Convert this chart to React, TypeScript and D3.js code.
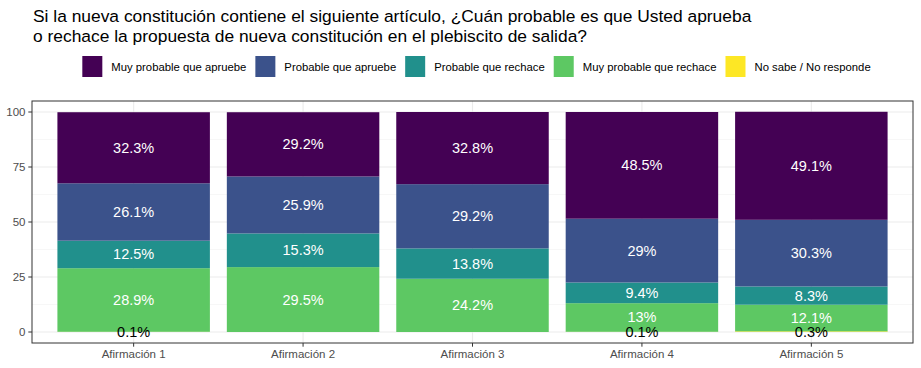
import React, { useEffect, useRef } from 'react'
import * as d3 from 'd3'

const categories = ['Afirmación 1', 'Afirmación 2', 'Afirmación 3', 'Afirmación 4', 'Afirmación 5']
const series = [
  'Muy probable que apruebe',
  'Probable que apruebe',
  'Probable que rechace',
  'Muy probable que rechace',
  'No sabe / No responde',
]
const colors = ['#440154', '#3B528B', '#21908C', '#5DC863', '#FDE725']
const labelColors = ['#ffffff', '#ffffff', '#ffffff', '#ffffff', '#000000']

// valores en %
const muyApruebe = [32.3, 29.2, 32.8, 48.5, 49.1]
const apruebe = [26.1, 25.9, 29.2, 29, 30.3]
const rechace = [12.5, 15.3, 13.8, 9.4, 8.3]
const muyRechace = [28.9, 29.5, 24.2, 13, 12.1]
const noSabe = [0.1, 0, 0, 0.1, 0.3]

const yTicks = [0, 25, 50, 75, 100]
const yMinor = [12.5, 37.5, 62.5, 87.5]

const titleLines = [
  'Si la nueva constitución contiene el siguiente artículo, ¿Cuán probable es que Usted aprueba',
  'o rechace la propuesta de nueva constitución en el plebiscito de salida?',
]

const FONT = '"Liberation Sans", Arial, sans-serif'

const App = () => {
  const svgRef = useRef<SVGSVGElement>(null)

  useEffect(() => {
    document.body.style.margin = '0'
    const width = 921
    const height = 368
    const panel = { left: 32, right: 913, top: 101, bottom: 343 }

    const values = [muyApruebe, apruebe, rechace, muyRechace, noSabe]
    const rows = categories.map((c, i) => {
      const r: any = { cat: c }
      series.forEach((s, j) => (r[s] = values[j][i]))
      return r
    })
    // apilado: "No sabe" abajo, "Muy probable que apruebe" arriba
    const stack = d3.stack().keys([...series].reverse())(rows)

    const x = d3
      .scaleBand()
      .domain(categories)
      .range([panel.left, panel.right])
      .paddingInner(0.1)
      .paddingOuter(0.15)
    const y = d3.scaleLinear().domain([-5, 105]).range([panel.bottom, panel.top])
    const color = d3.scaleOrdinal<string>().domain(series).range(colors)
    const textColor = d3.scaleOrdinal<string>().domain(series).range(labelColors)

    const svg = d3.select(svgRef.current).attr('width', width).attr('height', height)
    svg.selectAll('*').remove()
    svg.append('rect').attr('width', width).attr('height', height).attr('fill', '#fff')

    // titulo
    svg
      .append('g')
      .selectAll('text')
      .data(titleLines)
      .join('text')
      .attr('x', 33)
      .attr('y', (d, i) => 22 + i * 20)
      .style('font-family', FONT)
      .style('font-size', '17.4px')
      .attr('fill', '#000')
      .text((d) => d)

    // grilla
    const grid = svg.append('g')
    grid
      .selectAll('line.minor')
      .data(yMinor)
      .join('line')
      .attr('class', 'minor')
      .attr('x1', panel.left)
      .attr('x2', panel.right)
      .attr('y1', (d) => y(d))
      .attr('y2', (d) => y(d))
      .attr('stroke', '#F2F2F2')
      .attr('stroke-width', 0.6)
    grid
      .selectAll('line.major')
      .data(yTicks)
      .join('line')
      .attr('class', 'major')
      .attr('x1', panel.left)
      .attr('x2', panel.right)
      .attr('y1', (d) => y(d))
      .attr('y2', (d) => y(d))
      .attr('stroke', '#EBEBEB')
      .attr('stroke-width', 1.1)
    grid
      .selectAll('line.vmajor')
      .data(categories)
      .join('line')
      .attr('class', 'vmajor')
      .attr('x1', (d) => x(d)! + x.bandwidth() / 2)
      .attr('x2', (d) => x(d)! + x.bandwidth() / 2)
      .attr('y1', panel.top)
      .attr('y2', panel.bottom)
      .attr('stroke', '#EBEBEB')
      .attr('stroke-width', 1.1)

    // barras
    const layers = svg
      .append('g')
      .selectAll('g')
      .data(stack)
      .join('g')
      .attr('fill', (d) => color(d.key))
    layers
      .selectAll('rect')
      .data((d) => d)
      .join('rect')
      .attr('x', (d: any) => x(d.data.cat)!)
      .attr('width', x.bandwidth())
      .attr('y', (d) => y(d[1]))
      .attr('height', (d) => y(d[0]) - y(d[1]))

    // etiquetas
    stack.forEach((layer) => {
      svg
        .append('g')
        .selectAll('text')
        .data(layer.filter((d) => d[1] - d[0] > 0))
        .join('text')
        .attr('x', (d: any) => x(d.data.cat)! + x.bandwidth() / 2)
        .attr('y', (d) => y((d[0] + d[1]) / 2))
        .attr('text-anchor', 'middle')
        .attr('dominant-baseline', 'central')
        .style('font-family', FONT)
        .style('font-size', '14.5px')
        .attr('fill', textColor(layer.key))
        .text((d: any) => `${d.data[layer.key]}%`)
    })

    // borde del panel
    svg
      .append('rect')
      .attr('x', panel.left)
      .attr('y', panel.top)
      .attr('width', panel.right - panel.left)
      .attr('height', panel.bottom - panel.top)
      .attr('fill', 'none')
      .attr('stroke', '#333333')
      .attr('stroke-width', 1)

    // eje y
    const yAxis = svg.append('g')
    yAxis
      .selectAll('line')
      .data(yTicks)
      .join('line')
      .attr('x1', panel.left - 3.7)
      .attr('x2', panel.left)
      .attr('y1', (d) => y(d))
      .attr('y2', (d) => y(d))
      .attr('stroke', '#333333')
    yAxis
      .selectAll('text')
      .data(yTicks)
      .join('text')
      .attr('x', panel.left - 6.5)
      .attr('y', (d) => y(d))
      .attr('text-anchor', 'end')
      .attr('dominant-baseline', 'central')
      .style('font-family', FONT)
      .style('font-size', '11.5px')
      .attr('fill', '#4D4D4D')
      .text((d) => d)

    // eje x
    const xAxis = svg.append('g')
    xAxis
      .selectAll('line')
      .data(categories)
      .join('line')
      .attr('x1', (d) => x(d)! + x.bandwidth() / 2)
      .attr('x2', (d) => x(d)! + x.bandwidth() / 2)
      .attr('y1', panel.bottom)
      .attr('y2', panel.bottom + 3.7)
      .attr('stroke', '#333333')
    xAxis
      .selectAll('text')
      .data(categories)
      .join('text')
      .attr('x', (d) => x(d)! + x.bandwidth() / 2)
      .attr('y', panel.bottom + 15)
      .attr('text-anchor', 'middle')
      .style('font-family', FONT)
      .style('font-size', '11.5px')
      .attr('fill', '#4D4D4D')
      .text((d) => d)

    // leyenda
    const legend = svg.append('g')
    const items = legend
      .selectAll('g')
      .data(series)
      .join('g')
    items
      .append('rect')
      .attr('width', 20)
      .attr('height', 21)
      .attr('fill', (d) => color(d))
    const texts = items
      .append('text')
      .attr('x', 29)
      .attr('y', 10.5)
      .attr('dominant-baseline', 'central')
      .style('font-family', FONT)
      .style('font-size', '11.3px')
      .attr('fill', '#000')
      .text((d) => d)
    const widths: number[] = []
    texts.each(function () {
      widths.push((this as SVGTextElement).getComputedTextLength())
    })
    const itemW = widths.map((w) => 29 + w + 9)
    const total = d3.sum(itemW) - 9
    let cx = 476.5 - total / 2
    items.attr('transform', (d, i) => {
      const t = `translate(${cx},56)`
      cx += itemW[i]
      return t
    })
  }, [])

  return <svg ref={svgRef} style={{ display: 'block' }}></svg>
}

export default App
